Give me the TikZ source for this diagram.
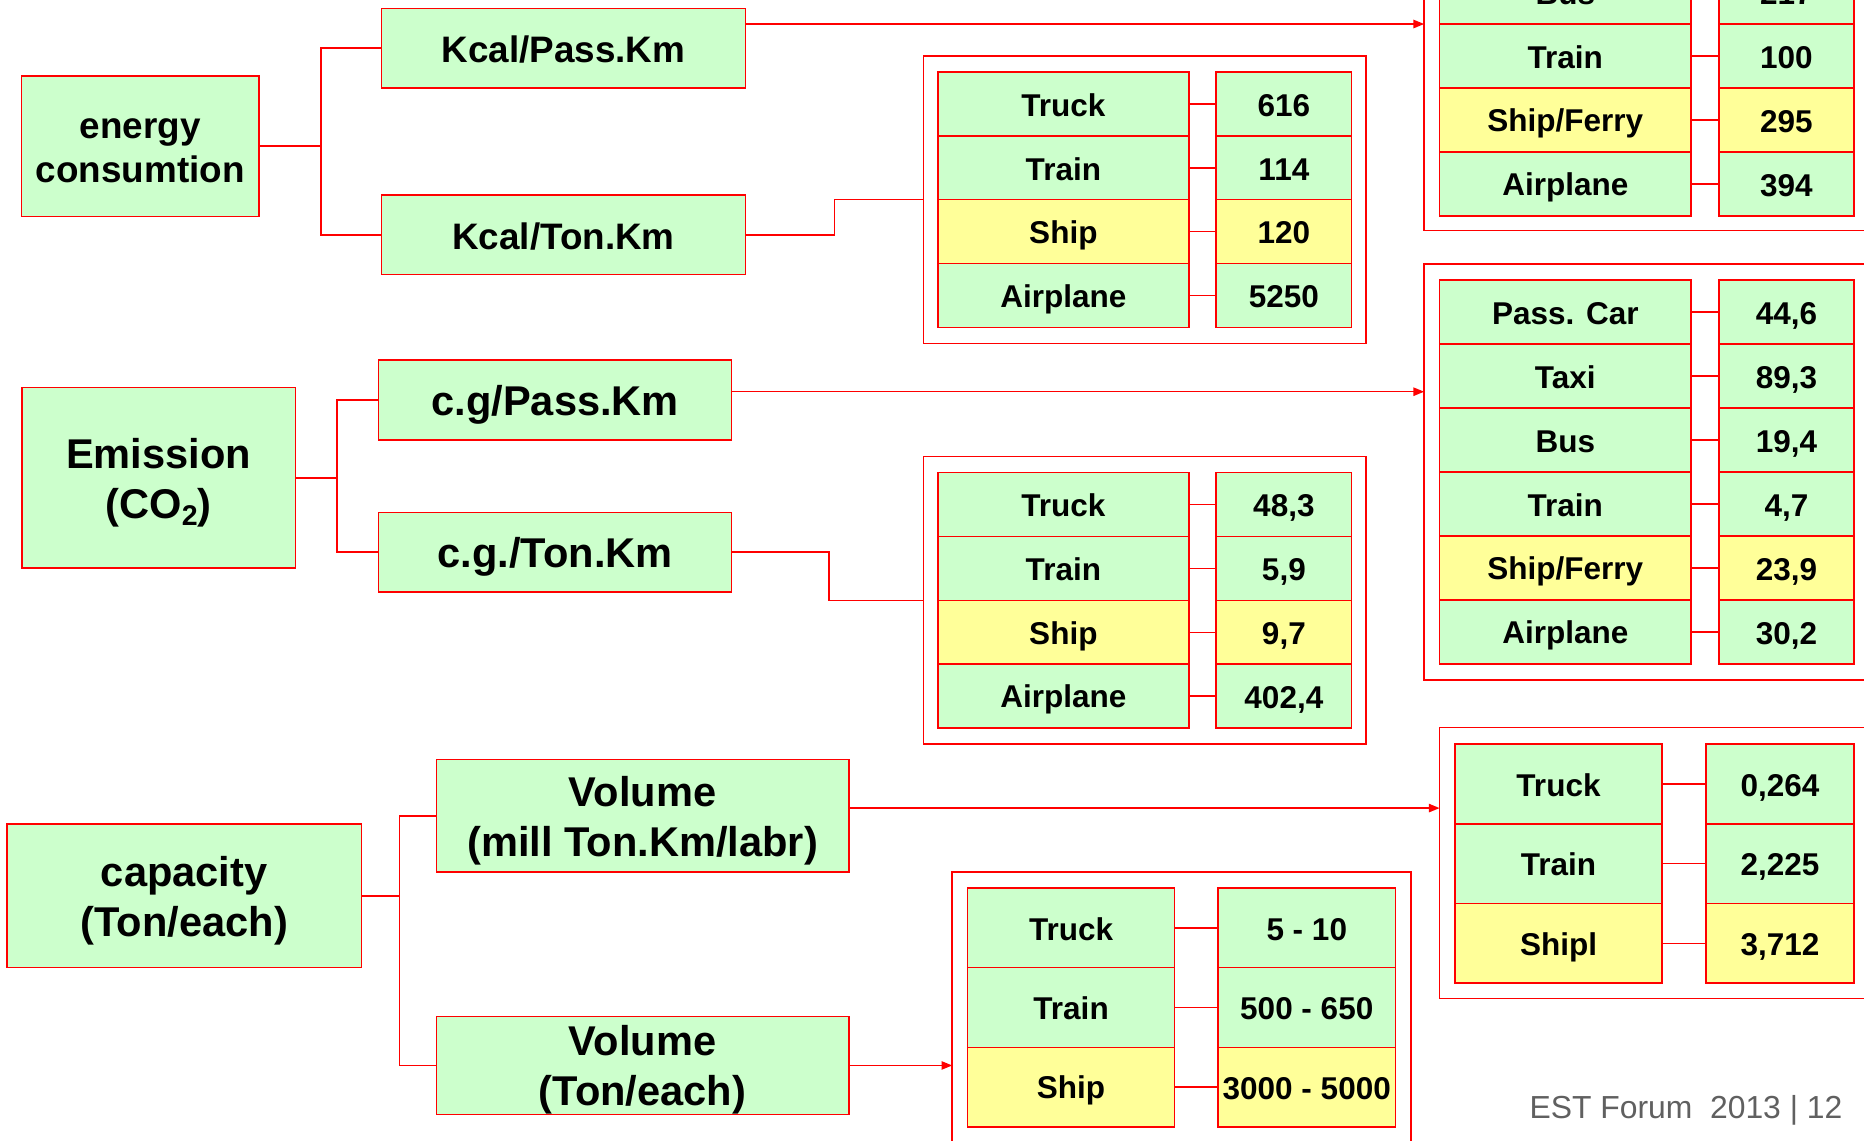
\documentclass[tikz,border=0pt]{standalone}
\usepackage{fontspec}
\setmainfont{Liberation Sans}
\usetikzlibrary{arrows.meta}

\definecolor{boxgreen}{HTML}{CCFFCC}
\definecolor{boxyellow}{HTML}{FFFF99}
\definecolor{boxred}{HTML}{FF0000}
\definecolor{footgray}{HTML}{606060}

\newcommand\cellfont{\fontsize{26.5}{31.8}\selectfont\bfseries}
\newcommand\unitfont{\fontsize{31}{37.5}\selectfont\bfseries}
\newcommand\groupfont{\fontsize{35}{42}\selectfont\bfseries}
% same ascent/descent on every line, so texts sit alike in their boxes
\newcommand\boxstrut{\rule[-0.17em]{0pt}{1.12em}}

\begin{document}
\begin{tikzpicture}[x=1pt,y=-1pt,
  box/.style={draw=boxred,fill=boxgreen,line width=1.3pt,inner sep=0pt,outer sep=0pt,anchor=north west,align=center,
    execute at begin node=\boxstrut,execute at end node=\boxstrut},
  frame/.style={draw=boxred,line width=1.3pt,inner sep=0pt,outer sep=0pt,anchor=north west},
  cell/.style={box,font=\cellfont,minimum height=53.8},
  link/.style={draw=boxred,line width=1.3pt},
  feed/.style={link,-{Triangle[length=9pt,width=7pt]}}]
\useasboundingbox[fill=white] (0,0) rectangle (1568,959);
\clip (0,0) rectangle (1568,959);

% energy consumption
\node[box,font=\unitfont,minimum width=200,minimum height=118] (energy) at (18,64) {\boxstrut energy\\consumtion};
\node[box,font=\unitfont,minimum width=306,minimum height=67] (kpass) at (321,7) {Kcal/Pass.Km};
\node[box,font=\unitfont,minimum width=306,minimum height=67] (kton) at (321,164) {Kcal/Ton.Km};
\draw[link] (energy.east) -- ++(52,0) |- (kpass.west);
\draw[link] (energy.east) -- ++(52,0) |- (kton.west);

\node[frame,minimum width=400,minimum height=354] (kpassframe) at (1198,-160) {};
\foreach \n/\v/\c [count=\k] in {Bus/217/boxgreen,Train/100/boxgreen,{Ship/Ferry}/295/boxyellow,Airplane/394/boxgreen} {
\node[cell,fill=\c,minimum width=211.5] (kpn\k) at (1211,{-33.7+53.85*(\k-1)}) {\n};
\node[cell,fill=\c,minimum width=113.5] (kpv\k) at (1446,{-33.7+53.85*(\k-1)}) {\v};
\draw[link] (kpn\k) -- (kpv\k);
}
\coordinate (kpassout) at ([yshift=20.3pt]kpass.east);
\draw[feed] (kpassout) -- (kpassout -| kpassframe.west);

\node[frame,minimum width=372,minimum height=242] (ktonframe) at (777,47) {};
\foreach \n/\v/\c [count=\k] in {Truck/616/boxgreen,Train/114/boxgreen,Ship/120/boxyellow,Airplane/5250/boxgreen} {
\node[cell,fill=\c,minimum width=211] (ktn\k) at (789,{60.6+53.7*(\k-1)}) {\n};
\node[cell,fill=\c,minimum width=114] (ktv\k) at (1023,{60.6+53.7*(\k-1)}) {\v};
\draw[link] (ktn\k) -- (ktv\k);
}
\draw[link] (kton.east) -- ++(75,0) |- (ktonframe.west);

% emission
\node[box,font=\groupfont,minimum width=230,minimum height=152] (emission) at (18.5,326) {\boxstrut Emission\\(CO\raisebox{-6pt}{\fontsize{24}{24}\selectfont 2})};
\node[box,font=\groupfont,minimum width=297,minimum height=67] (cgpass) at (318.5,303) {c.g/Pass.Km};
\node[box,font=\groupfont,minimum width=297,minimum height=67] (cgton) at (318.5,431) {c.g./Ton.Km};
\draw[link] (emission.east) -- ++(35,0) |- (cgpass.west);
\draw[link] (emission.east) -- ++(35,0) |- (cgton.west);

\node[frame,minimum width=400,minimum height=350] (cgpassframe) at (1198,222) {};
\foreach \n/\v/\c [count=\k] in {Pass. Car/{44,6}/boxgreen,Taxi/{89,3}/boxgreen,Bus/{19,4}/boxgreen,Train/{4,7}/boxgreen,{Ship/Ferry}/{23,9}/boxyellow,Airplane/{30,2}/boxgreen} {
\node[cell,fill=\c,minimum width=211.5] (cpn\k) at (1211,{235.5+53.85*(\k-1)}) {\n};
\node[cell,fill=\c,minimum width=113.5] (cpv\k) at (1446,{235.5+53.85*(\k-1)}) {\v};
\draw[link] (cpn\k) -- (cpv\k);
}
\coordinate (cgpassout) at ([yshift=7pt]cgpass.east);
\draw[feed] (cgpassout) -- (cgpassout -| cgpassframe.west);

\node[frame,minimum width=372,minimum height=242] (cgtonframe) at (777,384) {};
\foreach \n/\v/\c [count=\k] in {Truck/{48,3}/boxgreen,Train/{5,9}/boxgreen,Ship/{9,7}/boxyellow,Airplane/{402,4}/boxgreen} {
\node[cell,fill=\c,minimum width=211] (ctn\k) at (789,{397.5+53.75*(\k-1)}) {\n};
\node[cell,fill=\c,minimum width=114] (ctv\k) at (1023,{397.5+53.75*(\k-1)}) {\v};
\draw[link] (ctn\k) -- (ctv\k);
}
\draw[link] (cgton.east) -- ++(82,0) |- (cgtonframe.west);

% capacity
\node[box,font=\groupfont,minimum width=298,minimum height=121] (capacity) at (6,693) {\boxstrut capacity\\(Ton/each)};
\node[box,font=\groupfont,minimum width=347,minimum height=94.5] (volmill) at (367,639) {\boxstrut Volume\\(mill Ton.Km/labr)};
\node[box,font=\groupfont,minimum width=347,minimum height=80] (volton) at (367,855) {\boxstrut Volume\\(Ton/each)};
\draw[link] (capacity.east) -- ++(32,0) |- (volmill.west);
\draw[link] (capacity.east) -- ++(32,0) |- (volton.west);

\node[frame,minimum width=380,minimum height=228] (millframe) at (1211,612) {};
\foreach \n/\v/\c [count=\k] in {Truck/{0,264}/boxgreen,Train/{2,225}/boxgreen,Shipl/{3,712}/boxyellow} {
\node[cell,fill=\c,minimum width=174,minimum height=67] (mn\k) at (1224,{626+67*(\k-1)}) {\n};
\node[cell,fill=\c,minimum width=124.5,minimum height=67] (mv\k) at (1435,{626+67*(\k-1)}) {\v};
\draw[link] (mn\k) -- (mv\k);
}
\coordinate (volmillout) at ([yshift=6.5pt]volmill.east);
\draw[feed] (volmillout) -- (volmillout -| millframe.west);

\node[frame,minimum width=386,minimum height=240] (eachframe) at (801,733.5) {};
\foreach \n/\v/\c [count=\k] in {Truck/5 - 10/boxgreen,Train/500 - 650/boxgreen,Ship/3000 - 5000/boxyellow} {
\node[cell,fill=\c,minimum width=174,minimum height=67] (en\k) at (814,{747+67*(\k-1)}) {\n};
\node[cell,fill=\c,minimum width=149.5,minimum height=67] (ev\k) at (1024.5,{747+67*(\k-1)}) {\v};
\draw[link] (en\k) -- (ev\k);
}
\draw[feed] (volton.east) -- (volton.east -| eachframe.west);

\node[anchor=base east,text=footgray,font=\fontsize{26.8}{32}\selectfont,inner sep=0pt] (footer) at (1550,940.5) {EST Forum~~2013 | 12};
\end{tikzpicture}
\end{document}
